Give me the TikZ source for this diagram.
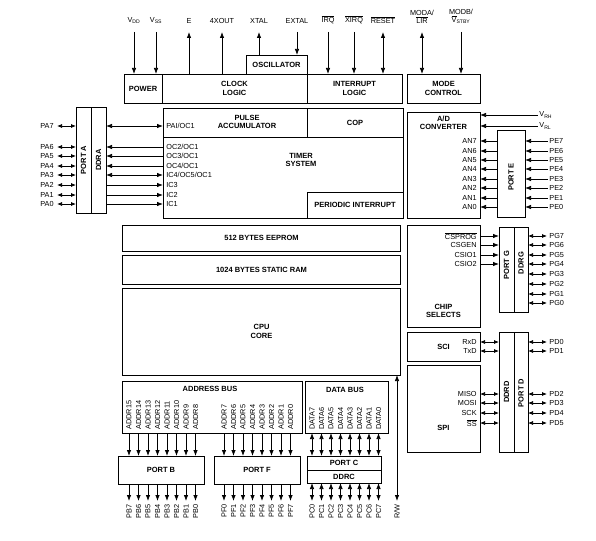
\documentclass[tikz,border=0pt]{standalone}
\usepackage{fontspec}
\setmainfont{Liberation Sans}
\usetikzlibrary{arrows.meta}

\newcommand{\ovl}[1]{$\overline{\mbox{#1}}$}

\begin{document}
\begin{tikzpicture}[x=1pt,y=-1pt,line width=0.75pt,
    >={Latex[length=6pt,width=4.5pt]},
    blk/.style={draw,line width=0.9pt,inner sep=0pt,outer sep=0pt,
      font=\fontsize{7.5}{8.5}\selectfont\bfseries,align=center},
    ttl/.style={font=\fontsize{7.5}{8.5}\selectfont\bfseries,align=center,inner sep=0pt},
    pinl/.style={font=\fontsize{7.3}{8}\selectfont,inner sep=1pt},
    pbi/.style={<->,>={Latex[length=5pt,width=4pt]}} ]
    \useasboundingbox (0,0) rectangle (596,540);
    % top row
    \node at (143,88.5) [blk,minimum width=38,minimum height=29] (power) {POWER};
    \node at (234.5,88.5) [blk,minimum width=145,minimum height=29] (clock) {CLOCK\\LOGIC};
    \node at (276.5,64.5) [blk,minimum width=61,minimum height=19] (osc) {OSCILLATOR};
    \node at (354.5,88.5) [blk,minimum width=95,minimum height=29] (intr) {INTERRUPT\\LOGIC};
    \node at (443.5,88.5) [blk,minimum width=73,minimum height=29] (mode) {MODE\\CONTROL};
    \node at (134,25) [pinl,anchor=south] (vdd) {V\textsubscript{DD}};
    \node at (156,25) [pinl,anchor=south] (vss) {V\textsubscript{SS}};
    \node at (189,25) [pinl,anchor=south] (e) {E};
    \node at (222,25) [pinl,anchor=south] (xout) {4XOUT};
    \node at (259,25) [pinl,anchor=south] (xtal) {XTAL};
    \node at (297,25) [pinl,anchor=south] (extal) {EXTAL};
    \node at (328,25) [pinl,anchor=south] (irq) {\ovl{IRQ}};
    \node at (354,25) [pinl,anchor=south] (xirq) {\ovl{XIRQ}};
    \node at (383,25) [pinl,anchor=south] (reset) {\ovl{RESET}};
    \node at (422,25) [pinl,anchor=south,align=center] (moda) {MODA/\\\ovl{LIR}};
    \node at (461,25) [pinl,anchor=south,align=center] (modb) {MODB/\\\ovl{V}\textsubscript{STBY}};
    \draw [->] ([yshift=-7pt]vdd.south) to (vdd |- power.north);
    \draw [->] ([yshift=-7pt]vss.south) to (vss |- power.north);
    \draw [->] (e |- clock.north) to ([yshift=-7pt]e.south);
    \draw [->] (xout |- clock.north) to ([yshift=-7pt]xout.south);
    \draw [->] (xtal |- osc.north) to ([yshift=-7pt]xtal.south);
    \draw [->] ([yshift=-7pt]extal.south) to (extal |- osc.north);
    \draw [->] ([yshift=-7pt]irq.south) to (irq |- intr.north);
    \draw [->] ([yshift=-7pt]xirq.south) to (xirq |- intr.north);
    \draw [<->] ([yshift=-7pt]reset.south) to (reset |- intr.north);
    \draw [<->] ([yshift=-7pt]moda.south) to (moda |- mode.north);
    \draw [->] ([yshift=-7pt]modb.south) to (modb |- mode.north);
    % timer and port A
    \node at (283,163) [blk,minimum width=240,minimum height=110] (timer) {};
    \node at (235,122.5) [blk,minimum width=144,minimum height=29] (pulse) {};
    \node at (355,122.5) [blk,minimum width=96,minimum height=29] (cop) {COP};
    \node at (355,205) [blk,minimum width=96,minimum height=26] (pit) {PERIODIC INTERRUPT};
    \node at (247,122) [ttl] (pulsel) {PULSE\\ACCUMULATOR};
    \node at (301,160) [ttl] (timerl) {TIMER\\SYSTEM};
    \node at (83.5,160) [blk,minimum width=15,minimum height=106] (porta) {};
    \node at (98.5,160) [blk,minimum width=15,minimum height=106] (ddra) {};
    \node at (porta) [ttl,rotate=90] (portal) {PORT A};
    \node at (ddra) [ttl,rotate=90] (ddral) {DDRA};
    \foreach \n/\y in {7/126,6/147,5/156,4/166,3/175,2/185,1/195,0/204}{
      \node at (55,\y) [pinl,anchor=east] (pa\n) {PA\n};
      \draw [pbi] ([xshift=2pt]pa\n.east) to (pa\n -| porta.west);
    }
    \node at (165,126) [pinl,anchor=west] (pai) {PAI/OC1};
    \node at (165,147) [pinl,anchor=west] (oc2) {OC2/OC1};
    \node at (165,156) [pinl,anchor=west] (oc3) {OC3/OC1};
    \node at (165,166) [pinl,anchor=west] (oc4) {OC4/OC1};
    \node at (165,175) [pinl,anchor=west] (ic4) {IC4/OC5/OC1};
    \node at (165,185) [pinl,anchor=west] (ic3) {IC3};
    \node at (165,195) [pinl,anchor=west] (ic2) {IC2};
    \node at (165,204) [pinl,anchor=west] (ic1) {IC1};
    \draw [<->] (pai -| ddra.east) to (pai -| pulse.west);
    \draw [<-] (oc2 -| ddra.east) to (oc2 -| timer.west);
    \draw [<-] (oc3 -| ddra.east) to (oc3 -| timer.west);
    \draw [<-] (oc4 -| ddra.east) to (oc4 -| timer.west);
    \draw [<->] (ic4 -| ddra.east) to (ic4 -| timer.west);
    \draw [->] (ic3 -| ddra.east) to (ic3 -| timer.west);
    \draw [->] (ic2 -| ddra.east) to (ic2 -| timer.west);
    \draw [->] (ic1 -| ddra.east) to (ic1 -| timer.west);
    % memories and cpu
    \node at (261.5,238) [blk,minimum width=278,minimum height=26] (eeprom) {512 BYTES EEPROM};
    \node at (261.5,269.5) [blk,minimum width=278,minimum height=29] (ram) {1024 BYTES STATIC RAM};
    \node at (261.5,331.5) [blk,minimum width=278,minimum height=87] (cpu) {CPU\\CORE};
    % A/D and port E
    \node at (443.5,165) [blk,minimum width=73,minimum height=106] (adc) {};
    \node at (443.5,123) [ttl] (adcl) {A/D\\CONVERTER};
    \node at (511,173.5) [blk,minimum width=28,minimum height=87] (porte) {};
    \node at (511,177) [ttl,rotate=90] (portel) {PORT E};
    \node at (538,115) [pinl,anchor=west] (vrh) {V\textsubscript{RH}};
    \node at (538,126) [pinl,anchor=west] (vrl) {V\textsubscript{RL}};
    \draw [<-] (vrh -| adc.east) to (vrh.west);
    \draw [<-] (vrl -| adc.east) to (vrl.west);
    \foreach \n/\y in {7/141,6/151,5/160,4/169,3/179,2/188,1/198,0/207}{
      \node at (478,\y) [pinl,anchor=east] (an\n) {AN\n};
      \node at (548,\y) [pinl,anchor=west] (pe\n) {PE\n};
      \draw [<-] (an\n -| adc.east) to (an\n -| porte.west);
      \draw [<-] (pe\n -| porte.east) to (pe\n.west);
    }
    % chip selects and port G
    \node at (443.5,276) [blk,minimum width=73,minimum height=102] (csel) {};
    \node at (443.5,311) [ttl] (csell) {CHIP\\SELECTS};
    \node at (506.5,269.5) [blk,minimum width=15,minimum height=85] (portg) {};
    \node at (521,269.5) [blk,minimum width=14,minimum height=85] (ddrg) {};
    \node at (506.5,265) [ttl,rotate=90] (portgl) {PORT G};
    \node at (521,263) [ttl,rotate=90] (ddrgl) {DDRG};
    \foreach \nm/\t/\y in {csprog/\ovl{CSPROG}/236,csgen/CSGEN/245,csioa/CSIO1/255,csiob/CSIO2/264}{
      \node at (478,\y) [pinl,anchor=east] (\nm) {\t};
      \draw [->] (\nm -| csel.east) to (\nm -| portg.west);
    }
    \foreach \n/\y in {7/236,6/245,5/255,4/264,3/274,2/284,1/294,0/303}{
      \node at (548,\y) [pinl,anchor=west] (pg\n) {PG\n};
      \draw [pbi] (pg\n -| ddrg.east) to ([xshift=-1pt]pg\n.west);
    }
    % SCI, SPI and port D
    \node at (443.5,346.5) [blk,minimum width=73,minimum height=29] (sci) {SCI};
    \node at (443.5,408.5) [blk,minimum width=73,minimum height=87] (spi) {};
    \node at (443.5,428) [ttl] (spil) {SPI};
    \node at (506.5,392) [blk,minimum width=15,minimum height=120] (ddrd) {};
    \node at (521,392) [blk,minimum width=14,minimum height=120] (portd) {};
    \node at (506.5,392) [ttl,rotate=90] (ddrdl) {DDRD};
    \node at (521,393) [ttl,rotate=90] (portdl) {PORT D};
    \foreach \nm/\t/\n/\y in {rxd/RxD/0/342,txd/TxD/1/351,miso/MISO/2/394,mosi/MOSI/3/403,sck/SCK/4/413,ss/\ovl{SS}/5/423}{
      \node at (478,\y) [pinl,anchor=east] (\nm) {\t};
      \node at (548,\y) [pinl,anchor=west] (pd\n) {PD\n};
      \draw [pbi] (\nm -| sci.east) to (\nm -| ddrd.west);
      \draw [pbi] (pd\n -| portd.east) to ([xshift=-1pt]pd\n.west);
    }
    % buses and ports B, F, C
    \node at (212,407) [blk,minimum width=180,minimum height=52] (abus) {};
    \node at (210,389) [ttl] (abusl) {ADDRESS BUS};
    \node at (346.5,407) [blk,minimum width=83,minimum height=52] (dbus) {};
    \node at (345,390) [ttl] (dbusl) {DATA BUS};
    \node at (161,470) [blk,minimum width=86,minimum height=28] (portb) {PORT B};
    \node at (257,470) [blk,minimum width=86,minimum height=28] (portf) {PORT F};
    \node at (344,463) [blk,minimum width=74,minimum height=14] (portc) {PORT C};
    \node at (344,476.5) [blk,minimum width=74,minimum height=13] (ddrc) {DDRC};
    \foreach \a/\b [count=\i from 0] in {15/7,14/6,13/5,12/4,11/3,10/2,9/1,8/0}{
      \pgfmathsetmacro\xx{129+9.5*\i}
      \node at (\xx,431) [pinl,rotate=90,anchor=west] (ad\a) {ADDR\a};
      \node at (\xx,503) [pinl,rotate=90,anchor=east] (pb\b) {PB\b};
      \draw [->] (ad\a |- abus.south) to (ad\a |- portb.north);
      \draw [->] (ad\a |- portb.south) to ([yshift=2pt]pb\b.east);
    }
    \foreach \a/\b [count=\i from 0] in {7/0,6/1,5/2,4/3,3/4,2/5,1/6,0/7}{
      \pgfmathsetmacro\xx{224+9.5*\i}
      \node at (\xx,431) [pinl,rotate=90,anchor=west] (ad\a) {ADDR\a};
      \node at (\xx,503) [pinl,rotate=90,anchor=east] (pf\b) {PF\b};
      \draw [->] (ad\a |- abus.south) to (ad\a |- portf.north);
      \draw [->] (ad\a |- portf.south) to ([yshift=2pt]pf\b.east);
    }
    \foreach \a/\b [count=\i from 0] in {7/0,6/1,5/2,4/3,3/4,2/5,1/6,0/7}{
      \pgfmathsetmacro\xx{312+9.5*\i}
      \node at (\xx,431) [pinl,rotate=90,anchor=west] (da\a) {DATA\a};
      \node at (\xx,503) [pinl,rotate=90,anchor=east] (pc\b) {PC\b};
      \draw [<->] (da\a |- dbus.south) to (da\a |- portc.north);
      \draw [<->] (da\a |- ddrc.south) to ([yshift=2pt]pc\b.east);
    }
    \node at (397,503) [pinl,rotate=90,anchor=east] (rw) {R/W};
    \draw [<->] (rw |- cpu.south) to ([yshift=2pt]rw.east);
\end{tikzpicture}
\end{document}
